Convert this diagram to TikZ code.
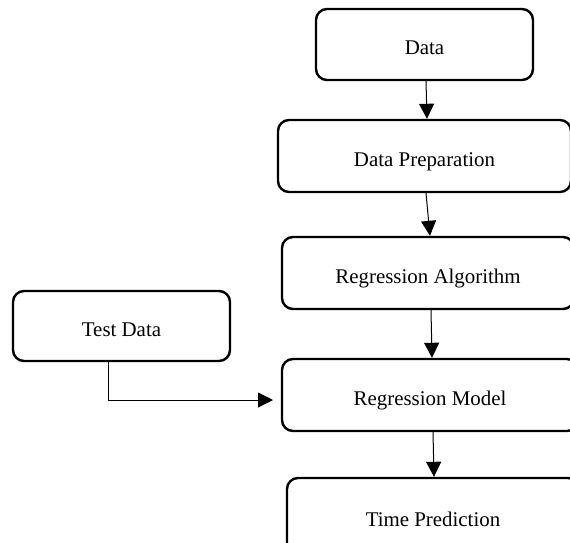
\documentclass[tikz,border=0pt]{standalone}
\usepackage{fontspec}
\setmainfont{Liberation Serif}
\usetikzlibrary{arrows.meta}

\begin{document}
\begin{tikzpicture}[x=1pt, y=-1pt,
  box/.style={draw, line width=2.4pt, rounded corners=11pt, inner sep=0pt, text height=20pt, text depth=0pt, font=\fontsize{20.9}{25}\selectfont},
  flow/.style={-{Triangle[length=15pt, width=15pt]}, line width=1pt}]
\useasboundingbox (0,0) rectangle (570,543);
\clip (0,0) rectangle (570,543);
\node [box, minimum width=217pt, minimum height=71pt] (data) at (424.5,44.5) {Data};
\node [box, minimum width=293pt, minimum height=72pt] (prep) at (424.5,156) {Data Preparation};
\node [box, minimum width=292pt, minimum height=72pt] (algo) at (428,273) {Regression Algorithm};
\node [box, minimum width=296pt, minimum height=72pt] (model) at (430,395) {Regression Model};
\node [box, minimum width=292pt, minimum height=76pt] (pred) at (433,516) {Time Prediction};
\node [box, minimum width=217pt, minimum height=70pt] (test) at (121.5,326) {Test Data};
\coordinate (tin) at (273,400);
\draw [flow] ([xshift=1.5pt]data.south) -- ([xshift=2.5pt]prep.north);
\draw [flow] ([xshift=1.5pt]prep.south) -- ([xshift=2pt]algo.north);
\draw [flow] ([xshift=3pt]algo.south) -- ([xshift=2pt]model.north);
\draw [flow] ([xshift=3pt]model.south) -- ([xshift=1pt]pred.north);
\draw [flow] ([xshift=-13.5pt]test.south) |- (tin);
\end{tikzpicture}
\end{document}
